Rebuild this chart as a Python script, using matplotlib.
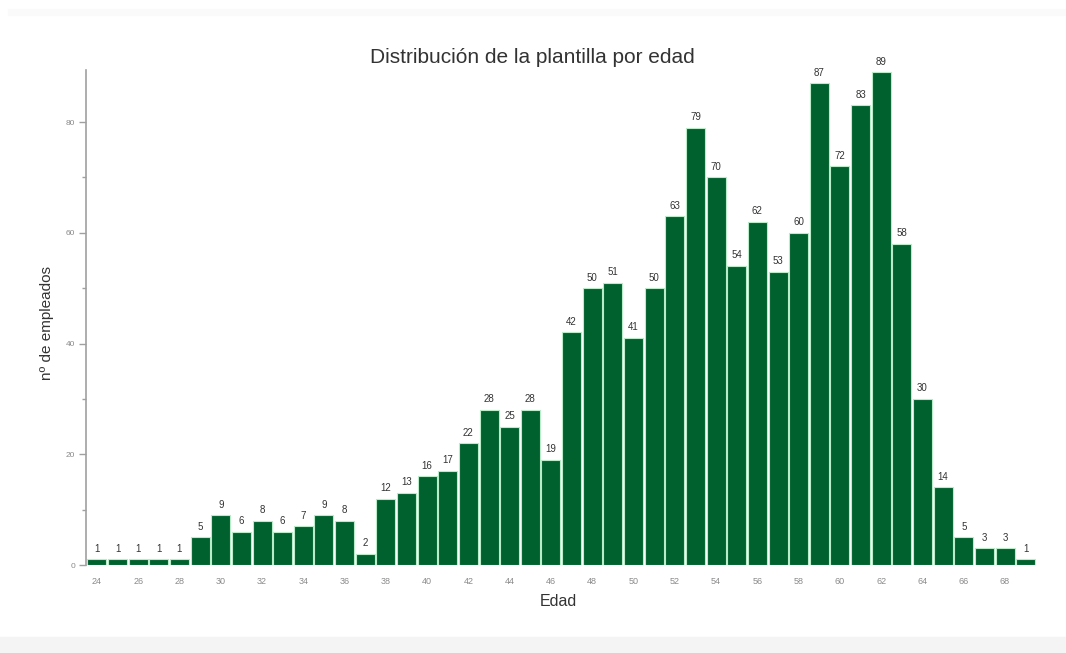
import matplotlib
matplotlib.use("Agg")
import matplotlib.pyplot as plt
from matplotlib.ticker import MultipleLocator

ages = list(range(24, 70))
counts = [1, 1, 1, 1, 1, 5, 9, 6, 8, 6, 7, 9, 8, 2, 12, 13, 16, 17, 22, 28,
          25, 28, 19, 42, 50, 51, 41, 50, 63, 79, 70, 54, 62, 53, 60, 87, 72,
          83, 89, 58, 30, 14, 5, 3, 3, 1]
xticks = list(range(24, 70, 2))
yticks = [0, 20, 40, 60, 80]

title = "Distribución de la plantilla por edad"
xlabel = "Edad"
ylabel = "nº de empleados"

plt.rcParams['font.family'] = ['Liberation Sans', 'DejaVu Sans']

W, H = 1066, 653
fig = plt.figure(figsize=(W / 100, H / 100), dpi=100)
fig.patch.set_facecolor("white")
# faint grey strips at top and bottom
fig.patches.append(plt.Rectangle((0, 0), 1, 16 / H, transform=fig.transFigure,
                                 color="#f4f4f4", zorder=0))
fig.patches.append(plt.Rectangle((8 / W, 1 - 15 / H), 1, 6 / H, transform=fig.transFigure,
                                 color="#fafafa", zorder=0))

left, right = 86 / W, 1036 / W
bottom, top = 1 - 565 / H, 1 - 70 / H
ax = fig.add_axes([left, bottom, right - left, top - bottom])
ax.set_facecolor("white")

bars = ax.bar(ages, counts, width=0.92, color="#00612f", edgecolor="#b9ecc8",
              linewidth=0.8)
for a, c in zip(ages, counts):
    ax.annotate(str(c), (a, c), xytext=(0, 4), textcoords="offset points",
                ha="center", va="bottom", fontsize=7, color="#333333")

ax.set_xlim(23.47, 69.5)
ax.set_ylim(0, 89.4)

for s in ["top", "right", "bottom"]:
    ax.spines[s].set_visible(False)
ax.spines["left"].set_color("#a0a0a0")
ax.spines["left"].set_linewidth(1.2)

ax.set_yticks(yticks)
ax.yaxis.set_minor_locator(MultipleLocator(10))
ax.tick_params(axis="y", which="major", length=5, width=1, color="#a0a0a0",
               labelsize=6, labelcolor="#8a8a8a", pad=3)
ax.tick_params(axis="y", which="minor", length=3, width=1, color="#a0a0a0")
ax.set_xticks(xticks)
ax.tick_params(axis="x", which="major", length=0, labelsize=6.5,
               labelcolor="#8a8a8a", pad=9)

ax.set_title(title, fontsize=15, color="#333333", pad=5)
ax.title.set_position((0.47, 1.0))
fig.text(558 / W, 1 - 601 / H, xlabel, ha="center", va="center",
         fontsize=11.5, color="#333333")
fig.text(47 / W, 1 - 323 / H, ylabel, ha="center", va="center",
         rotation=90, fontsize=11, color="#333333")

fig.savefig("out.png", dpi=100)
